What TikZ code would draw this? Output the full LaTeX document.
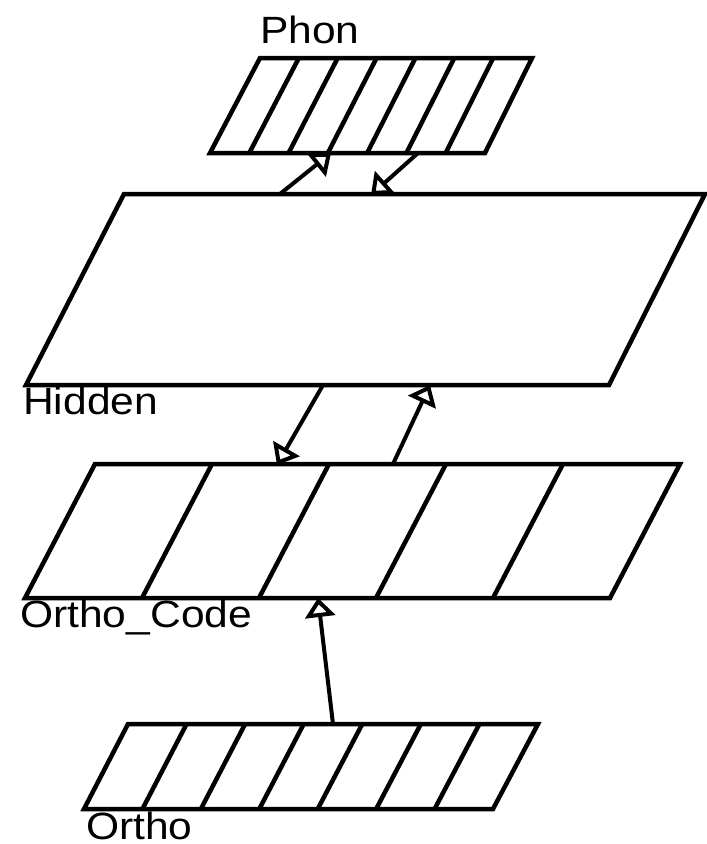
\documentclass[tikz,border=0pt]{standalone}
\usepackage{fontspec}
\setmainfont{Liberation Sans}[FakeStretch=1.12]
\usetikzlibrary{arrows.meta}
\begin{document}
\begin{tikzpicture}[x=1pt,y=-1pt,
  layer/.style={draw=black,line width=4.5pt,line join=miter},
  divider/.style={draw=black,line width=4.5pt},
  conn/.style={draw=black,line width=4pt,-{Triangle[length=19pt,width=30pt,fill=white]}},
  lbl/.style={font=\fontsize{38}{40}\selectfont,inner sep=0pt,anchor=base west}]
\useasboundingbox (0,0) rectangle (707,844);
\fill[white] (0,0) rectangle (707,844);

% Phon layer (7 units)
\draw[layer] (260,58) -- (532,58) -- (485,153) -- (210,153) -- cycle;
\foreach \i in {1,...,6}
  \draw[divider] ({260+\i*(532-260)/7},58) -- ({210+\i*(485-210)/7},153);
\node[lbl] (phonlbl) at (260,43) {Phon};

% Hidden layer
\draw[layer] (124,194) -- (705,194) -- (609,385) -- (26,385) -- cycle;
\node[lbl] (hiddenlbl) at (23,414) {Hidden};

% Ortho_Code layer (5 units)
\draw[layer] (95,464) -- (680,464) -- (610,598) -- (25,598) -- cycle;
\foreach \i in {1,...,4}
  \draw[divider] ({95+\i*(680-95)/5},464) -- ({25+\i*(610-25)/5},598);
\node[lbl] (codelbl) at (20,627) {Ortho\_Code};

% Ortho layer (7 units)
\draw[layer] (128,724) -- (538,724) -- (493,809) -- (84,809) -- cycle;
\foreach \i in {1,...,6}
  \draw[divider] ({128+\i*(538-128)/7},724) -- ({84+\i*(493-84)/7},809);
\node[lbl] (ortholbl) at (86,839) {Ortho};

% connection end points
\coordinate (hidTopA) at (280,194);
\coordinate (phonBotA) at (331,153);
\coordinate (phonBotB) at (418,153);
\coordinate (hidTopB) at (371,195);
\coordinate (hidBotA) at (323,385);
\coordinate (codeTopA) at (277,465);
\coordinate (codeTopB) at (393,464);
\coordinate (hidBotB) at (430,385);
\coordinate (orthoTop) at (333,724);
\coordinate (codeBot) at (318,598);

% connectors
\draw[conn] (hidTopA) -- (phonBotA);
\draw[conn] (phonBotB) -- (hidTopB);
\draw[conn] (hidBotA) -- (codeTopA);
\draw[conn] (codeTopB) -- (hidBotB);
\draw[conn] (orthoTop) -- (codeBot);
\end{tikzpicture}
\end{document}
